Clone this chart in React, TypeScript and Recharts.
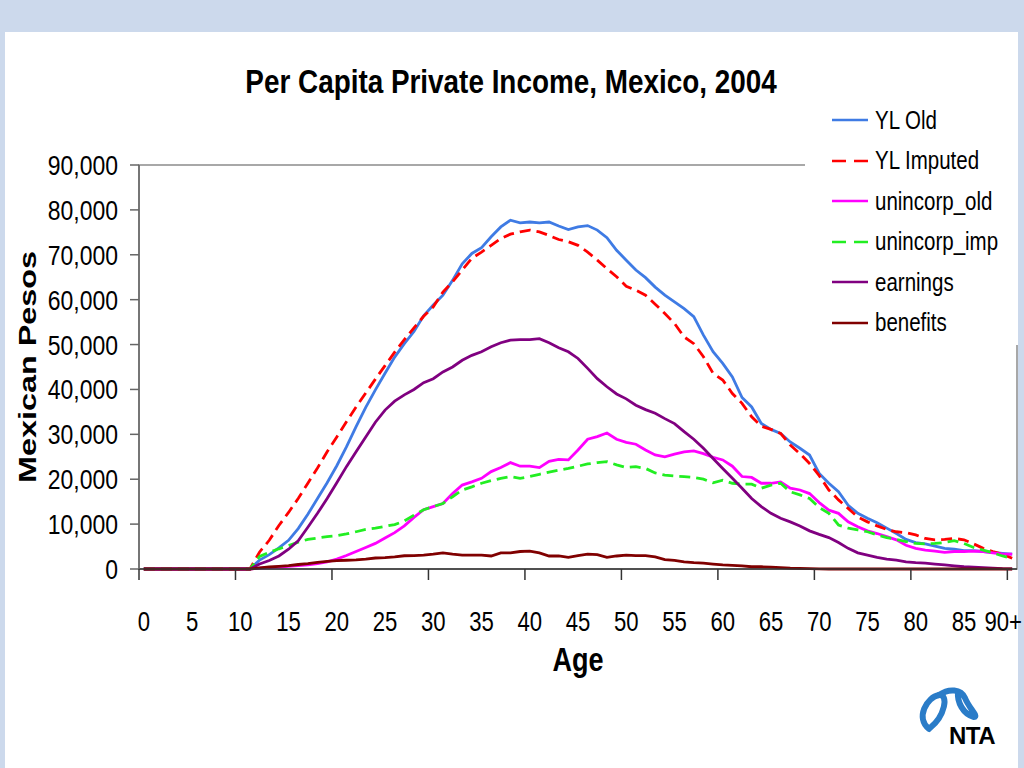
import React from "react";
import {
  LineChart,
  Line,
  XAxis,
  YAxis,
  Legend,
  ReferenceArea,
} from "recharts";

const ages = [
  "0", "1", "2", "3", "4", "5", "6", "7", "8", "9",
  "10", "11", "12", "13", "14", "15", "16", "17", "18", "19",
  "20", "21", "22", "23", "24", "25", "26", "27", "28", "29",
  "30", "31", "32", "33", "34", "35", "36", "37", "38", "39",
  "40", "41", "42", "43", "44", "45", "46", "47", "48", "49",
  "50", "51", "52", "53", "54", "55", "56", "57", "58", "59",
  "60", "61", "62", "63", "64", "65", "66", "67", "68", "69",
  "70", "71", "72", "73", "74", "75", "76", "77", "78", "79",
  "80", "81", "82", "83", "84", "85", "86", "87", "88", "89",
  "90+",
];

const ylOld = [
  0, 0, 0, 0, 0, 0, 0, 0, 0, 0, 0, 0,
  2000, 3200, 4700, 6400, 9000, 12200, 15700, 19200, 23000, 27200,
  31700, 36000, 39900, 43600, 47200, 50200, 52900, 56400, 58800,
  61000, 64300, 68000, 70300, 71600, 74000, 76200, 77700, 77100, 77300,
  77100, 77300, 76400, 75600, 76200, 76500, 75500, 73800, 71000, 68800,
  66600, 64900, 62800, 61000, 59500, 58000, 56200, 52100, 48400, 45800,
  42800, 38200, 36100, 32400, 31100, 30200, 28300, 26900, 25400, 21300,
  19100, 17200, 14200, 12400, 11300, 10300, 9100, 7900, 6600, 5900,
  5600, 5100, 4600, 4400, 4100, 4100, 3900, 3700, 3500, 3300,
];

const ylImputed = [
  0, 0, 0, 0, 0, 0, 0, 0, 0, 0, 0, 0,
  3800, 6400, 9700, 12600, 15700, 19100, 22500, 26100, 29400, 32800,
  36100, 39200, 42300, 45300, 48300, 51100, 53700, 56300, 58400,
  61700, 64000, 66600, 69200, 70600, 72100, 73600, 74600, 75100, 75500,
  75100, 74300, 73400, 72900, 72100, 70600, 68800, 66900, 65100, 63000,
  62100, 61000, 59000, 56900, 54700, 51700, 50200, 47300, 43600, 42100,
  39100, 36900, 33900, 31800, 31100, 30200, 27600, 25700, 23500, 20800,
  17600, 15400, 13500, 11600, 10500, 9600, 8800, 8300, 8100, 7600,
  6800, 6500, 6600, 6800, 6500, 5600, 4600, 3900, 3300, 2400,
];

const unincorpOld = [
  0, 0, 0, 0, 0, 0, 0, 0, 0, 0, 0, 0,
  200, 300, 450, 600, 750, 950, 1200, 1600, 2200, 3000,
  3900, 4800, 5700, 6900, 8100, 9600, 11500, 13200, 13900,
  14600, 16800, 18700, 19400, 20200, 21700, 22600, 23700, 22900, 22900,
  22600, 24000, 24400, 24300, 26500, 28900, 29500, 30300, 28900, 28200,
  27800, 26500, 25400, 25000, 25600, 26100, 26300, 25700, 24900, 24300,
  22900, 20600, 20400, 19100, 19100, 19400, 18000, 17600, 16800, 14800,
  13100, 12400, 10500, 9400, 8500, 7900, 7200, 6500, 5300, 4600,
  4200, 4000, 3700, 3900, 3900, 4000, 3900, 3600, 3300, 3300,
];

const unincorpImp = [
  0, 0, 0, 0, 0, 0, 0, 0, 0, 0, 0, 0,
  2800, 3700, 4500, 5200, 6000, 6600, 6900, 7200, 7400, 7800,
  8300, 8800, 9100, 9500, 9900, 10700, 12000, 13200, 13900,
  14600, 16100, 17600, 18300, 19100, 19700, 20200, 20600, 20200, 20600,
  21100, 21600, 22000, 22400, 22900, 23400, 23700, 23900, 23200, 22600,
  22800, 22400, 21400, 20900, 20700, 20600, 20400, 20000, 19200, 19800,
  19100, 18900, 18900, 18000, 18700, 19100, 17200, 16500, 15700, 13700,
  12400, 9800, 9100, 8700, 8300, 7600, 7000, 6600, 6100, 5700,
  5600, 5700, 5900, 6300, 5700, 4800, 4200, 3600, 2900, 2400,
];

const earnings = [
  0, 0, 0, 0, 0, 0, 0, 0, 0, 0, 0, 0,
  1100, 1900, 2900, 4400, 6300, 9300, 12400, 15700, 19200, 22800,
  26100, 29400, 32700, 35400, 37400, 38800, 40000, 41500, 42400,
  43900, 45000, 46500, 47600, 48400, 49500, 50400, 51000, 51100, 51100,
  51300, 50400, 49300, 48400, 46900, 44700, 42400, 40600, 39000, 37900,
  36500, 35500, 34700, 33500, 32400, 30600, 28900, 26900, 24600, 22400,
  20200, 18000, 15700, 13900, 12400, 11300, 10500, 9600, 8500, 7700,
  7000, 5900, 4600, 3600, 3100, 2600, 2200, 2000, 1600, 1400,
  1300, 1100, 900, 700, 500, 400, 300, 200, 100, 50,
];

const benefits = [
  0, 0, 0, 0, 0, 0, 0, 0, 0, 0, 0, 0,
  250, 450, 600, 750, 1000, 1200, 1500, 1700, 1850, 1950,
  2050, 2200, 2450, 2550, 2700, 2950, 3000, 3100, 3300,
  3600, 3300, 3100, 3100, 3100, 2900, 3600, 3600, 3900, 4000,
  3600, 2900, 2900, 2600, 3000, 3300, 3200, 2600, 2900, 3100,
  3000, 3000, 2700, 2100, 1900, 1600, 1400, 1300, 1100, 900,
  800, 700, 500, 500, 400, 300, 200, 150, 100, 50,
  0, 0, 0, 0, 0, 0, 0, 0, 0, 0,
  0, 0, 0, 0, 0, 0, 0, 0, 0, 0,
];

const yTicks = [0, 10000, 20000, 30000, 40000, 50000, 60000, 70000, 80000, 90000];

const series = [
  { key: "ylOld", name: "YL Old", color: "#3f7be4", dash: undefined },
  { key: "ylImputed", name: "YL Imputed", color: "#ff0000", dash: "11 6" },
  { key: "unincorpOld", name: "unincorp_old", color: "#ff00ff", dash: undefined },
  { key: "unincorpImp", name: "unincorp_imp", color: "#22ee22", dash: "11 6" },
  { key: "earnings", name: "earnings", color: "#800080", dash: undefined },
  { key: "benefits", name: "benefits", color: "#800000", dash: undefined },
];

const data = ages.map((age, i) => ({
  age,
  ylOld: ylOld[i],
  ylImputed: ylImputed[i],
  unincorpOld: unincorpOld[i],
  unincorpImp: unincorpImp[i],
  earnings: earnings[i],
  benefits: benefits[i],
}));

// no narrow face is installed, so squeeze Liberation Sans horizontally
const SANS = "'Liberation Sans', Arial, sans-serif";
const NARROW = 0.82;

const W = 1024;
const H = 768;
const MARGIN = { top: 165, right: 7, bottom: 0, left: 0 };
const Y_AXIS_W = 139;
const X_AXIS_H = 199;
const X_TICK_SIZE = 11;
const X_TICK_MARGIN = 32;
const HALF_BAND = (W - MARGIN.right - MARGIN.left - Y_AXIS_W) / ages.length / 2;

const AgeTick = (props: any) => {
  const { x, y, payload } = props;
  const idx = ages.indexOf(payload.value);
  const axisY = y - X_TICK_SIZE - X_TICK_MARGIN;
  const last = idx === ages.length - 1;
  return (
    <g>
      {idx % 10 === 0 && (
        <line
          x1={x - HALF_BAND}
          x2={x - HALF_BAND}
          y1={axisY}
          y2={axisY + X_TICK_SIZE}
          stroke="#333"
          strokeWidth={1.5}
        />
      )}
      <g transform={`translate(${last ? W - 2 : x}, ${y}) scale(${NARROW}, 1)`}>
        <text
          x={0}
          y={0}
          dy="0.71em"
          textAnchor={last ? "end" : "middle"}
          fontSize={27}
          fontFamily={SANS}
          fill="#000"
        >
          {payload.value}
        </text>
      </g>
    </g>
  );
};

const PesoTick = (props: any) => {
  const { x, y, payload } = props;
  return (
    <g transform={`translate(${x}, ${y}) scale(${NARROW}, 1)`}>
      <text
        x={0}
        y={0}
        dy="0.355em"
        textAnchor="end"
        fontSize={28}
        fontFamily={SANS}
        fill="#000"
      >
        {Number(payload.value).toLocaleString("en-US")}
      </text>
    </g>
  );
};

const YLabel = (props: any) => {
  const { viewBox } = props;
  const cx = viewBox.x + 27;
  const cy = viewBox.y + viewBox.height / 2;
  return (
    <text
      x={cx}
      y={cy}
      transform={`rotate(-90, ${cx}, ${cy})`}
      textAnchor="middle"
      dominantBaseline="central"
      fontSize={24}
      fontWeight="bold"
      fontFamily={SANS}
      textLength={232}
      lengthAdjust="spacingAndGlyphs"
      fill="#000"
    >
      Mexican Pesos
    </text>
  );
};

const AgeLabel = (props: any) => {
  const { viewBox } = props;
  const cx = viewBox.x + viewBox.width / 2;
  return (
    <g transform={`translate(${cx}, ${viewBox.y + 102}) scale(${NARROW}, 1)`}>
      <text x={0} y={0} textAnchor="middle" fontSize={33} fontWeight="bold" fontFamily={SANS} fill="#000">
        Age
      </text>
    </g>
  );
};

const LegendBox = () => (
  <div style={{ paddingTop: 5, fontFamily: SANS, fontSize: 25, color: "#000" }}>
    {series.map((s) => (
      <div
        key={s.key}
        style={{ height: 40.5, display: "flex", alignItems: "center", paddingLeft: 27 }}
      >
        <svg width={36} height={6} style={{ marginRight: 7, flexShrink: 0 }}>
          <line
            x1={0}
            x2={36}
            y1={3}
            y2={3}
            stroke={s.color}
            strokeWidth={2.5}
            strokeDasharray={s.dash ? "14 8" : undefined}
          />
        </svg>
        <span
          style={{
            lineHeight: 1,
            whiteSpace: "nowrap",
            display: "inline-block",
            transform: `scaleX(${NARROW})`,
            transformOrigin: "left center",
          }}
        >
          {s.name}
        </span>
      </div>
    ))}
  </div>
);

export default function App() {
  return (
    <div
      style={{
        position: "absolute",
        left: 0,
        top: 0,
        width: W,
        height: H,
        background: "#ccd9ec",
        overflow: "hidden",
      }}
    >
      <div
        style={{
          position: "absolute",
          left: 5,
          top: 32,
          width: 1013,
          height: 736,
          background: "#ffffff",
        }}
      />
      <svg width={W} height={H} style={{ position: "absolute", left: 0, top: 0 }}>
        <g transform={`translate(511, 93) scale(${NARROW}, 1)`}>
          <text x={0} y={0} textAnchor="middle" fontSize={34} fontWeight="bold" fontFamily={SANS} fill="#000">
            Per Capita Private Income, Mexico, 2004
          </text>
        </g>
        <g fill="none" stroke="#2a7cc8" strokeWidth={6} strokeLinecap="round">
          <path d="M929,729 C915,718 927,697 939,695 C949,694 945,716 930,728" />
          <path d="M939,695 C949,688 961,689 965,698 C969,708 979,717 974,717 C963,714 957,702 958,692" />
        </g>
        <text x={949} y={744} fontSize={24} fontWeight="bold" fontFamily={SANS} letterSpacing={-0.5} fill="#000">
          NTA
        </text>
      </svg>
      <div style={{ position: "absolute", left: 0, top: 0 }}>
        <LineChart width={W} height={H} data={data} margin={MARGIN}>
          <ReferenceArea
            x1={ages[0]}
            x2={ages[ages.length - 1]}
            y1={0}
            y2={90000}
            fill="none"
            stroke="#8c8c8c"
            strokeWidth={1.5}
            ifOverflow="visible"
          />
          <XAxis
            dataKey="age"
            scale="band"
            interval={4}
            height={X_AXIS_H}
            tickSize={X_TICK_SIZE}
            tickMargin={X_TICK_MARGIN}
            tickLine={false}
            axisLine={{ stroke: "#333", strokeWidth: 1.5 }}
            tick={<AgeTick />}
            label={<AgeLabel />}
          />
          <YAxis
            width={Y_AXIS_W}
            domain={[0, 90000]}
            ticks={yTicks}
            interval={0}
            tickSize={9}
            tickMargin={12}
            tick={<PesoTick />}
            axisLine={{ stroke: "#666", strokeWidth: 1.5 }}
            tickLine={{ stroke: "#666", strokeWidth: 1.5 }}
            label={<YLabel />}
          />
          <Legend
            layout="vertical"
            align="center"
            verticalAlign="middle"
            content={<LegendBox />}
            wrapperStyle={{
              left: 805,
              top: 95,
              width: 213,
              height: 250,
              background: "#ffffff",
            }}
          />
          {series.map((s) => (
            <Line
              key={s.key}
              type="linear"
              dataKey={s.key}
              name={s.name}
              stroke={s.color}
              strokeWidth={2.8}
              strokeDasharray={s.dash}
              dot={false}
              activeDot={false}
              isAnimationActive={false}
            />
          ))}
        </LineChart>
      </div>
    </div>
  );
}
